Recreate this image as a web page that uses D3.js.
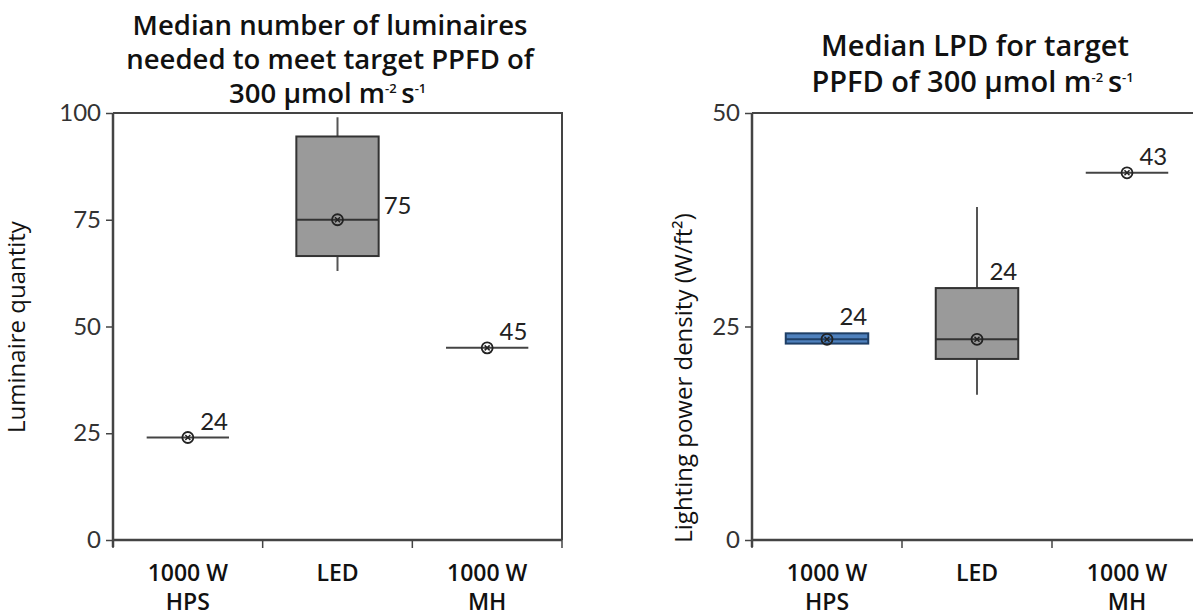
<!DOCTYPE html>
<html>
<head>
<meta charset="utf-8">
<script src="https://cdn.jsdelivr.net/npm/d3@7"></script>
<style>
  body { margin: 0; background: #fff; }
  svg text { font-family: Lato, "Open Sans", sans-serif; fill: #111; }
</style>
</head>
<body>
<svg id="chart" width="1193" height="616"></svg>
<script>
// Lamp types on the x axis (two-line labels)
const categories = ["1000 W HPS", "LED", "1000 W MH"];
const categoryLines = [["1000 W", "HPS"], ["LED"], ["1000 W", "MH"]];

// Luminaires needed for 300 µmol m-2 s-1 (box-plot statistics)
const qtyMin    = [24, 63,   45];
const qtyQ1     = [24, 66.5, 45];
const qtyMedian = [24, 75,   45];
const qtyQ3     = [24, 94.5, 45];
const qtyMax    = [24, 99,   45];
const qtyTicks  = [0, 25, 50, 75, 100];

// Lighting power density, W/ft² (box-plot statistics)
const lpdMin    = [23.0, 17.0, 43];
const lpdQ1     = [23.0, 21.2, 43];
const lpdMedian = [23.5, 23.5, 43];
const lpdQ3     = [24.2, 29.5, 43];
const lpdMax    = [24.2, 39.0, 43];
const lpdTicks  = [0, 25, 50];

const svg = d3.select("#chart");
const GRAY = "#9a9a9a", BLUE = "#4f81bd", BLUE_EDGE = "#1f3f66";

function rows(mins, q1s, meds, q3s, maxs) {
  return categories.map((c, i) => ({
    cat: c, i, min: mins[i], q1: q1s[i], med: meds[i], q3: q3s[i], max: maxs[i]
  }));
}

function panel(cfg) {
  const g = svg.append("g");
  const x = d3.scaleBand().domain(categories).range([cfg.left, cfg.right]).padding(0);
  const y = d3.scaleLinear().domain([0, cfg.ticks[cfg.ticks.length - 1]]).range([cfg.bottom, cfg.top]);
  const boxW = x.bandwidth() * 0.55;

  // frame: top and right edges
  g.append("path")
    .attr("d", `M${cfg.left},${cfg.top}H${cfg.right}V${cfg.bottom}`)
    .attr("fill", "none").attr("stroke", "#444").attr("stroke-width", 2);

  // y axis
  const ya = g.append("g").attr("transform", `translate(${cfg.left},0)`)
    .call(d3.axisLeft(y).tickValues(cfg.ticks).tickSize(7).tickPadding(5).tickFormat(d3.format("d")));
  ya.select(".domain").attr("stroke", "#444").attr("stroke-width", 2.5)
    .attr("d", `M0,${cfg.top}V${cfg.bottom + 7}`);
  ya.selectAll(".tick line").attr("stroke", "#444").attr("stroke-width", 1.5);
  ya.selectAll(".tick text").style("font-size", "24px").style("fill", "#333")
    .style("font-family", "Lato, sans-serif");

  // x axis: baseline and ticks at band boundaries
  const edges = categories.map(c => x(c)).concat([cfg.right]);
  g.append("line").attr("x1", cfg.left).attr("x2", cfg.right)
    .attr("y1", cfg.bottom).attr("y2", cfg.bottom)
    .attr("stroke", "#444").attr("stroke-width", 2.5);
  g.selectAll(".xtick").data(edges).join("line")
    .attr("x1", d => d).attr("x2", d => d)
    .attr("y1", cfg.bottom).attr("y2", cfg.bottom + 8)
    .attr("stroke", "#444").attr("stroke-width", 1.5);
  const xl = g.selectAll(".xlab").data(categories).join("text")
    .attr("text-anchor", "middle")
    .attr("x", d => x(d) + x.bandwidth() / 2)
    .style("font-size", "23px").style("font-weight", 600)
    .style("font-family", "'Open Sans', sans-serif");
  xl.selectAll("tspan").data((d, i) => categoryLines[i]).join("tspan")
    .attr("x", function () { return d3.select(this.parentNode).attr("x"); })
    .attr("y", (d, j) => cfg.bottom + 41 + j * 29)
    .text(d => d);

  const data = rows(cfg.min, cfg.q1, cfg.med, cfg.q3, cfg.max);
  const cx = d => x(d.cat) + x.bandwidth() / 2;

  // whiskers
  g.selectAll(".whisker").data(data.filter(d => d.max > d.min)).join("g").each(function (d) {
    const s = d3.select(this);
    s.append("line").attr("x1", cx(d)).attr("x2", cx(d)).attr("y1", y(d.max)).attr("y2", y(d.q3))
      .attr("stroke", "#555").attr("stroke-width", 2);
    s.append("line").attr("x1", cx(d)).attr("x2", cx(d)).attr("y1", y(d.q1)).attr("y2", y(d.min))
      .attr("stroke", "#555").attr("stroke-width", 2);
  });

  // boxes
  g.selectAll(".box").data(data.filter(d => d.q3 > d.q1)).join("rect")
    .attr("x", d => cx(d) - boxW / 2).attr("width", boxW)
    .attr("y", d => y(d.q3)).attr("height", d => y(d.q1) - y(d.q3))
    .attr("fill", d => cfg.fills[d.i]).attr("stroke", d => cfg.edges[d.i]).attr("stroke-width", 2);

  // medians
  g.selectAll(".median").data(data).join("line")
    .attr("x1", d => cx(d) - boxW / 2).attr("x2", d => cx(d) + boxW / 2)
    .attr("y1", d => y(d.med)).attr("y2", d => y(d.med))
    .attr("stroke", d => d.q3 > d.q1 ? cfg.edges[d.i] : "#444").attr("stroke-width", 2);

  // median markers: circle with a cross
  const mk = g.selectAll(".marker").data(data).join("g")
    .attr("transform", d => `translate(${cx(d)},${y(d.med)})`);
  mk.append("circle").attr("r", 5.5).attr("fill", "none").attr("stroke", "#222").attr("stroke-width", 1.8);
  mk.append("path").attr("d", "M-2.5,-2.5L2.5,2.5M-2.5,2.5L2.5,-2.5")
    .attr("stroke", "#222").attr("stroke-width", 1.5);

  // value labels
  const fmt = d3.format(".0f");
  g.selectAll(".vlab").data(data).join("text")
    .style("font-size", "24px").style("fill", "#222")
    .attr("text-anchor", d => (d.q3 > d.q1 && cfg.labelMode === "side") ? "start" : "end")
    .attr("x", d => (d.q3 > d.q1 && cfg.labelMode === "side") ? cx(d) + boxW / 2 + 5 : cx(d) + boxW / 2 - 1)
    .attr("y", d => {
      if (d.q3 > d.q1 && cfg.labelMode === "above") return y(d.q3) - 8;
      if (d.q3 > d.q1) return y(d.med) - 6;
      return y(d.med) - 8;
    })
    .text(d => fmt(d.med));

  // y axis title
  g.append("text").attr("text-anchor", "middle")
    .attr("transform", `translate(${cfg.yTitleX},${cfg.yTitleY}) rotate(-90)`)
    .style("font-size", "24px").style("font-family", "'Open Sans', sans-serif")
    .text(cfg.yTitle);

  // chart title
  const t = g.append("text").attr("text-anchor", "middle")
    .style("font-size", cfg.titleSize + "px").style("font-weight", 600)
    .style("font-family", "'Open Sans', sans-serif");
  cfg.titleLines.forEach((line, j) => {
    const ts = t.append("tspan").attr("x", cfg.titleX).attr("y", cfg.titleY[j]);
    line.forEach(part => {
      if (part.sup) {
        ts.append("tspan").attr("dy", -10).style("font-size", "13px").text(part.sup);
        ts.append("tspan").attr("dy", 10).text("\u2009");
      } else {
        ts.append("tspan").text(part.t);
      }
    });
  });
}

const unitLine = [{ t: "300 µmol m" }, { sup: "-2" }, { t: "s" }, { sup: "-1" }];

panel({
  left: 113, right: 562, top: 113, bottom: 540,
  ticks: qtyTicks, min: qtyMin, q1: qtyQ1, med: qtyMedian, q3: qtyQ3, max: qtyMax,
  fills: [GRAY, GRAY, GRAY], edges: ["#333", "#333", "#333"], labelMode: "side",
  yTitle: "Luminaire quantity", yTitleX: 25, yTitleY: 327,
  titleX: 330, titleY: [35, 69, 103], titleSize: 27.5,
  titleLines: [[{ t: "Median number of luminaires" }], [{ t: "needed to meet target PPFD of" }], unitLine]
});

panel({
  left: 752, right: 1202, top: 113, bottom: 540,
  ticks: lpdTicks, min: lpdMin, q1: lpdQ1, med: lpdMedian, q3: lpdQ3, max: lpdMax,
  fills: [BLUE, GRAY, GRAY], edges: [BLUE_EDGE, "#333", "#333"], labelMode: "above",
  yTitle: "Lighting power density (W/ft²)", yTitleX: 692, yTitleY: 378,
  titleX: 975, titleY: [56, 92], titleSize: 29,
  titleLines: [[{ t: "Median LPD for target" }], [{ t: "PPFD of " }].concat(unitLine)]
});
</script>
</body>
</html>
